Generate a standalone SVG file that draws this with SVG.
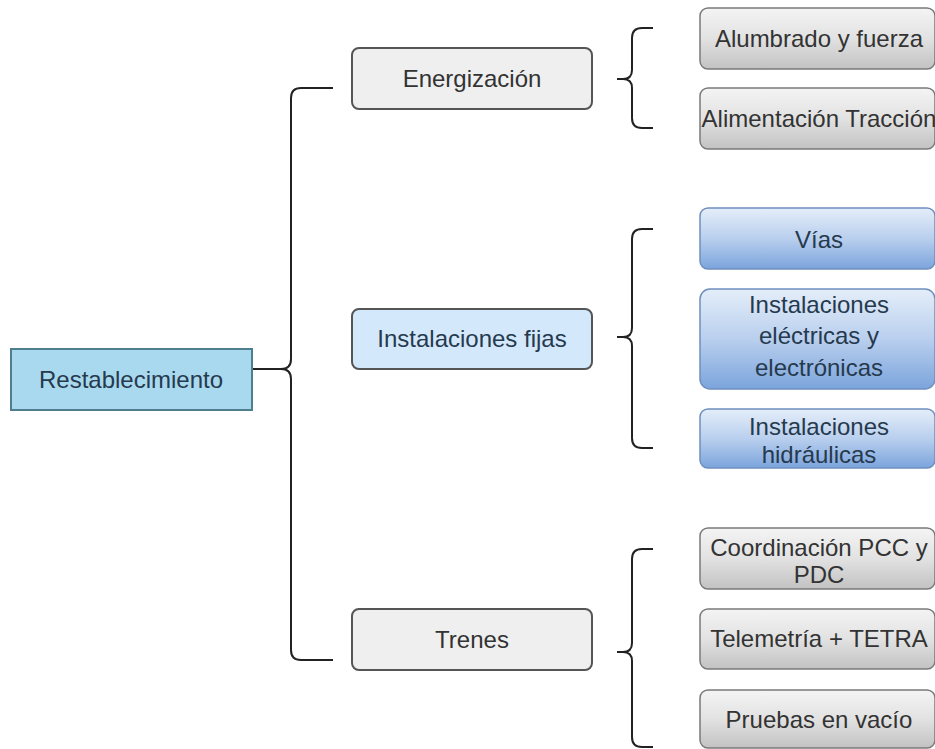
<svg xmlns="http://www.w3.org/2000/svg" width="935" height="749" viewBox="0 0 935 749">
<defs>
<linearGradient id="gGray" x1="0" y1="0" x2="0" y2="1">
<stop offset="0" stop-color="#f4f4f4"/>
<stop offset="0.5" stop-color="#e2e2e2"/>
<stop offset="1" stop-color="#c2c2c2"/>
</linearGradient>
<linearGradient id="gBlue" x1="0" y1="0" x2="0" y2="1">
<stop offset="0" stop-color="#e4eef9"/>
<stop offset="0.5" stop-color="#b9cfee"/>
<stop offset="1" stop-color="#7ba4dc"/>
</linearGradient>
<style>
text{font-family:"Liberation Sans",Arial,sans-serif;font-size:24px;text-anchor:middle;fill:#333;}
.blue text{fill:#263a4e;}
.main{fill:#efefef;stroke:#555;stroke-width:2;}
.childG{fill:url(#gGray);stroke:#7a7a7a;stroke-width:1.5;}
.childB{fill:url(#gBlue);stroke:#6f8fbf;stroke-width:1.5;}
.brace{fill:none;stroke:#222;stroke-width:2;}
</style>
</defs>
<rect width="935" height="749" fill="#ffffff"/>

<g id="connectors">
<path class="brace" d="M252,369 H281 M333,88 H301 Q291,88 291,98 V359 Q291,369 281,369 Q291,369 291,379 V650 Q291,660 301,660 H333"/>
<path class="brace" d="M617,79 H623 M653,28 H642 Q632,28 632,38 V70 Q632,79 623,79 Q632,79 632,88 V118 Q632,128 642,128 H653"/>
<path class="brace" d="M617,337 H623 M653,229 H642 Q632,229 632,239 V328 Q632,337 623,337 Q632,337 632,346 V438 Q632,448 642,448 H653"/>
<path class="brace" d="M617,652 H623 M653,549 H642 Q632,549 632,559 V643 Q632,652 623,652 Q632,652 632,661 V737 Q632,747 642,747 H653"/>
</g>

<g id="restablecimiento" class="blue">
<rect x="11" y="349" width="241" height="61" fill="#a9d9ee" stroke="#4f7f8e" stroke-width="2"/>
<text x="131" y="388">Restablecimiento</text>
</g>

<g id="energizacion">
<rect class="main" x="352" y="48" width="240" height="61" rx="7"/>
<text x="472" y="87">Energización</text>
</g>

<g id="instalaciones-fijas" class="blue">
<rect x="352" y="309" width="240" height="60" rx="7" fill="#d4e8fb" stroke="#555" stroke-width="2"/>
<text x="472" y="347">Instalaciones fijas</text>
</g>

<g id="trenes">
<rect class="main" x="352" y="609" width="240" height="61" rx="7"/>
<text x="472" y="648">Trenes</text>
</g>

<g id="alumbrado">
<rect class="childG" x="700" y="8" width="235" height="61" rx="8"/>
<text x="819" y="47">Alumbrado y fuerza</text>
</g>

<g id="alimentacion">
<rect class="childG" x="700" y="88" width="235" height="61" rx="8"/>
<text x="819" y="127">Alimentación Tracción</text>
</g>

<g id="vias" class="blue">
<rect class="childB" x="700" y="208" width="235" height="61" rx="8"/>
<text x="819" y="248">Vías</text>
</g>

<g id="inst-electricas" class="blue">
<rect class="childB" x="700" y="289" width="235" height="100" rx="10"/>
<text x="819" y="313">Instalaciones</text>
<text x="819" y="344">eléctricas y</text>
<text x="819" y="376">electrónicas</text>
</g>

<g id="inst-hidraulicas" class="blue">
<rect class="childB" x="700" y="409" width="235" height="59" rx="8"/>
<text x="819" y="435">Instalaciones</text>
<text x="819" y="463">hidráulicas</text>
</g>

<g id="coordinacion">
<rect class="childG" x="700" y="528" width="235" height="61" rx="8"/>
<text x="819" y="556">Coordinación PCC y</text>
<text x="819" y="583">PDC</text>
</g>

<g id="telemetria">
<rect class="childG" x="700" y="609" width="235" height="60" rx="8"/>
<text x="819" y="647">Telemetría + TETRA</text>
</g>

<g id="pruebas">
<rect class="childG" x="700" y="690" width="235" height="58" rx="8"/>
<text x="819" y="728">Pruebas en vacío</text>
</g>
</svg>
